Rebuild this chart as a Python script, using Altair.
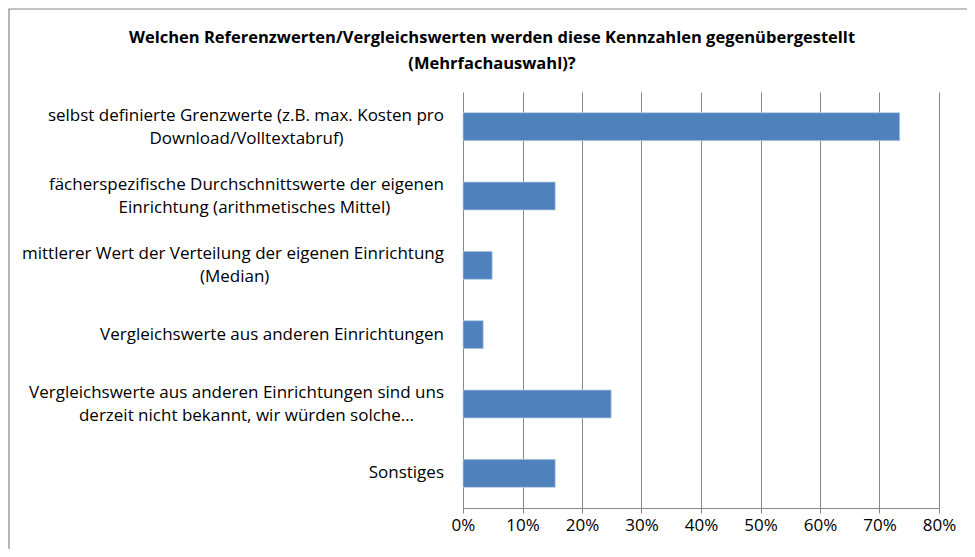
import altair as alt
import pandas as pd

# ---- data ----
label_line1 = [
    "selbst definierte Grenzwerte (z.B. max. Kosten pro",
    "fächerspezifische Durchschnittswerte der eigenen",
    "mittlerer Wert der Verteilung der eigenen Einrichtung",
    "Vergleichswerte aus anderen Einrichtungen",
    "Vergleichswerte aus anderen Einrichtungen sind uns",
    "Sonstiges",
]
label_line2 = [
    "Download/Volltextabruf)",
    "Einrichtung (arithmetisches Mittel)",
    "(Median)",
    "",
    "derzeit nicht bekannt, wir würden solche…",
    "",
]
values = [0.734, 0.155, 0.049, 0.034, 0.249, 0.155]
tick_values = [0, 0.1, 0.2, 0.3, 0.4, 0.5, 0.6, 0.7, 0.8]
title_lines = [
    "Welchen Referenzwerten/Vergleichswerten werden diese Kennzahlen gegenübergestellt",
    "(Mehrfachauswahl)?",
]

cats = [(a + " " + b).strip() for a, b in zip(label_line1, label_line2)]
df = pd.DataFrame({"cat": cats, "line1": label_line1, "line2": label_line2, "value": values})
df_title = pd.DataFrame({"t": ["\n".join(title_lines)]})

FONT = "Open Sans"
FS = 17
GRAY = "#868686"
W, H = 476, 416
LABEL_X = -19
CHAR_W = 7.9

yenc = alt.Y(
    "cat:N",
    sort=cats,
    scale=alt.Scale(paddingInner=0, paddingOuter=0),
    axis=alt.Axis(
        labels=False, title=None, grid=False, tickBand="extent",
        tickSize=5, tickColor=GRAY, domainColor=GRAY,
    ),
)
ynoaxis = alt.Y("cat:N", sort=cats, axis=None)

base = alt.Chart(df)

border = alt.Chart(df_title).mark_rect(fill=None, stroke=GRAY, strokeWidth=1.2).encode(
    x=alt.value(-454), x2=alt.value(1000), y=alt.value(-83), y2=alt.value(1000)
)

title = alt.Chart(df_title).mark_text(
    font=FONT, fontSize=16.5, fontWeight="bold", color="#000000",
    align="center", baseline="middle", lineHeight=26, lineBreak="\n",
).encode(x=alt.value(29), y=alt.value(-54), text="t:N")

bars = base.mark_bar(size=28, color="#4F81BD", stroke="#B9CDE5", strokeWidth=0.8).encode(
    x=alt.X(
        "value:Q",
        scale=alt.Scale(domain=[0, 0.8], nice=False),
        axis=alt.Axis(
            values=tick_values, format=".0%", title=None, grid=True,
            gridColor=GRAY, gridWidth=1, domainColor=GRAY, tickColor=GRAY,
            tickSize=5, labelPadding=4, labelFontSize=FS, labelFont=FONT,
            labelColor="#000000", labelFlush=False,
        ),
    ),
    y=yenc,
)

txt_kw = dict(font=FONT, fontSize=FS, color="#000000", baseline="middle")

single = base.mark_text(align="right", **txt_kw).encode(
    x=alt.value(LABEL_X), y=ynoaxis, text="line1:N"
).transform_filter("datum.line2 == ''")

first = base.mark_text(align="right", dy=-11, **txt_kw).encode(
    x=alt.value(LABEL_X), y=ynoaxis, text="line1:N"
).transform_filter("datum.line2 != ''")

second = base.mark_text(align="center", dy=12, **txt_kw).transform_filter(
    "datum.line2 != ''"
).transform_calculate(
    cx=f"{LABEL_X} - length(datum.line1) * {CHAR_W} / 2"
).encode(
    x=alt.X("cx:Q", scale=None, axis=None), y=ynoaxis, text="line2:N"
)

chart = alt.layer(border, title, bars, single, first, second).properties(
    width=W,
    height=H,
    autosize=alt.AutoSizeParams(type="none"),
    padding={"left": 455, "top": 84, "right": 28, "bottom": 41},
).configure_view(stroke=None)

chart.save("out.html", embed_options={"renderer": "svg", "actions": False})
